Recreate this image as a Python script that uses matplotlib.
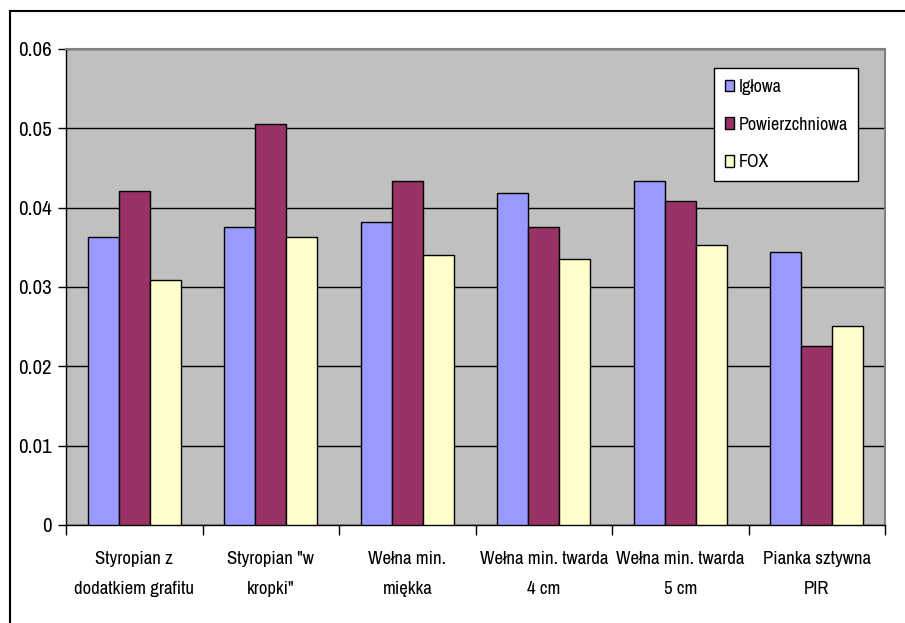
import numpy as np
import matplotlib
matplotlib.use('Agg')
import matplotlib.pyplot as plt
from matplotlib.lines import Line2D

# narrow grotesque first, plain Liberation Sans as fallback
matplotlib.rc('font', family=['Archivo Narrow', 'Liberation Sans', 'DejaVu Sans'])

# ----------------------------------------------------------------------
#   Data
# ----------------------------------------------------------------------

categories = ['Styropian z\ndodatkiem grafitu',
              'Styropian "w\nkropki"',
              'Wełna min.\nmiękka',
              'Wełna min. twarda\n4 cm',
              'Wełna min. twarda\n5 cm',
              'Pianka sztywna\nPIR']

series_names = ['Igłowa', 'Powierzchniowa', 'FOX']

iglowa         = [0.0363, 0.0376, 0.0382, 0.0418, 0.0434, 0.0344]
powierzchniowa = [0.0421, 0.0506, 0.0434, 0.0376, 0.0409, 0.0226]
fox            = [0.0309, 0.0363, 0.0340, 0.0335, 0.0353, 0.0251]

colors = ['#9999FF', '#993366', '#FFFFCC']

# ----------------------------------------------------------------------
#   Plot
# ----------------------------------------------------------------------

fig = plt.figure(figsize=(9.05, 6.23), dpi=100)
ax = fig.add_axes([66/905., 1 - 525/623., (885 - 66)/905., (525 - 49)/623.])
ax.set_facecolor('#C0C0C0')

x = np.arange(len(categories))
w = 0.227
for i, (vals, name) in enumerate(zip([iglowa, powierzchniowa, fox], series_names)):
    ax.bar(x + (i - 1) * w, vals, w, color=colors[i], edgecolor='black',
           linewidth=1.0, label=name, zorder=3)

ax.set_xlim(-0.5, len(categories) - 0.5)
ax.set_ylim(0, 0.06)
ax.set_yticks(np.arange(0, 0.061, 0.01))
ax.set_yticklabels(['0', '0.01', '0.02', '0.03', '0.04', '0.05', '0.06'])
ax.yaxis.grid(True, color='black', linewidth=1.0, zorder=1)
ax.set_axisbelow(True)

# category ticks sit between groups, labels centred under groups
ax.set_xticks(np.arange(-0.5, len(categories)), minor=False)
ax.set_xticklabels([])
ax.set_xticks(x, minor=True)
ax.set_xticklabels(categories, minor=True, fontsize=13.5, linespacing=2.05)
ax.tick_params(axis='x', which='minor', length=0, pad=19)
ax.tick_params(axis='x', which='major', length=7, width=1, color='black', direction='out')
ax.tick_params(axis='y', length=6, width=1, direction='out', labelsize=15, pad=4)

for side in ['top', 'right']:
    ax.spines[side].set_color('#808080')
    ax.spines[side].set_linewidth(1.5)
for side in ['left', 'bottom']:
    ax.spines[side].set_color('black')
    ax.spines[side].set_linewidth(1.0)

lg = ax.legend(loc='upper left', bbox_to_anchor=((714 - 66)/819., (525 - 68)/476.),
               borderaxespad=0, fontsize=13, handlelength=0.5, handleheight=0.6,
               handletextpad=0.25, labelspacing=1.2, borderpad=0.6,
               fancybox=False, framealpha=1, edgecolor='black')
lg.get_frame().set_linewidth(1.0)
lg.set_zorder(5)

# outer chart border (left and top edges visible)
fig.add_artist(Line2D([10/905., 10/905.], [0, 1 - 11/623.], color='black', linewidth=1.5))
fig.add_artist(Line2D([10/905., 1], [1 - 11/623., 1 - 11/623.], color='black', linewidth=1.5))

plt.savefig('out.png', dpi=100)
plt.close()
